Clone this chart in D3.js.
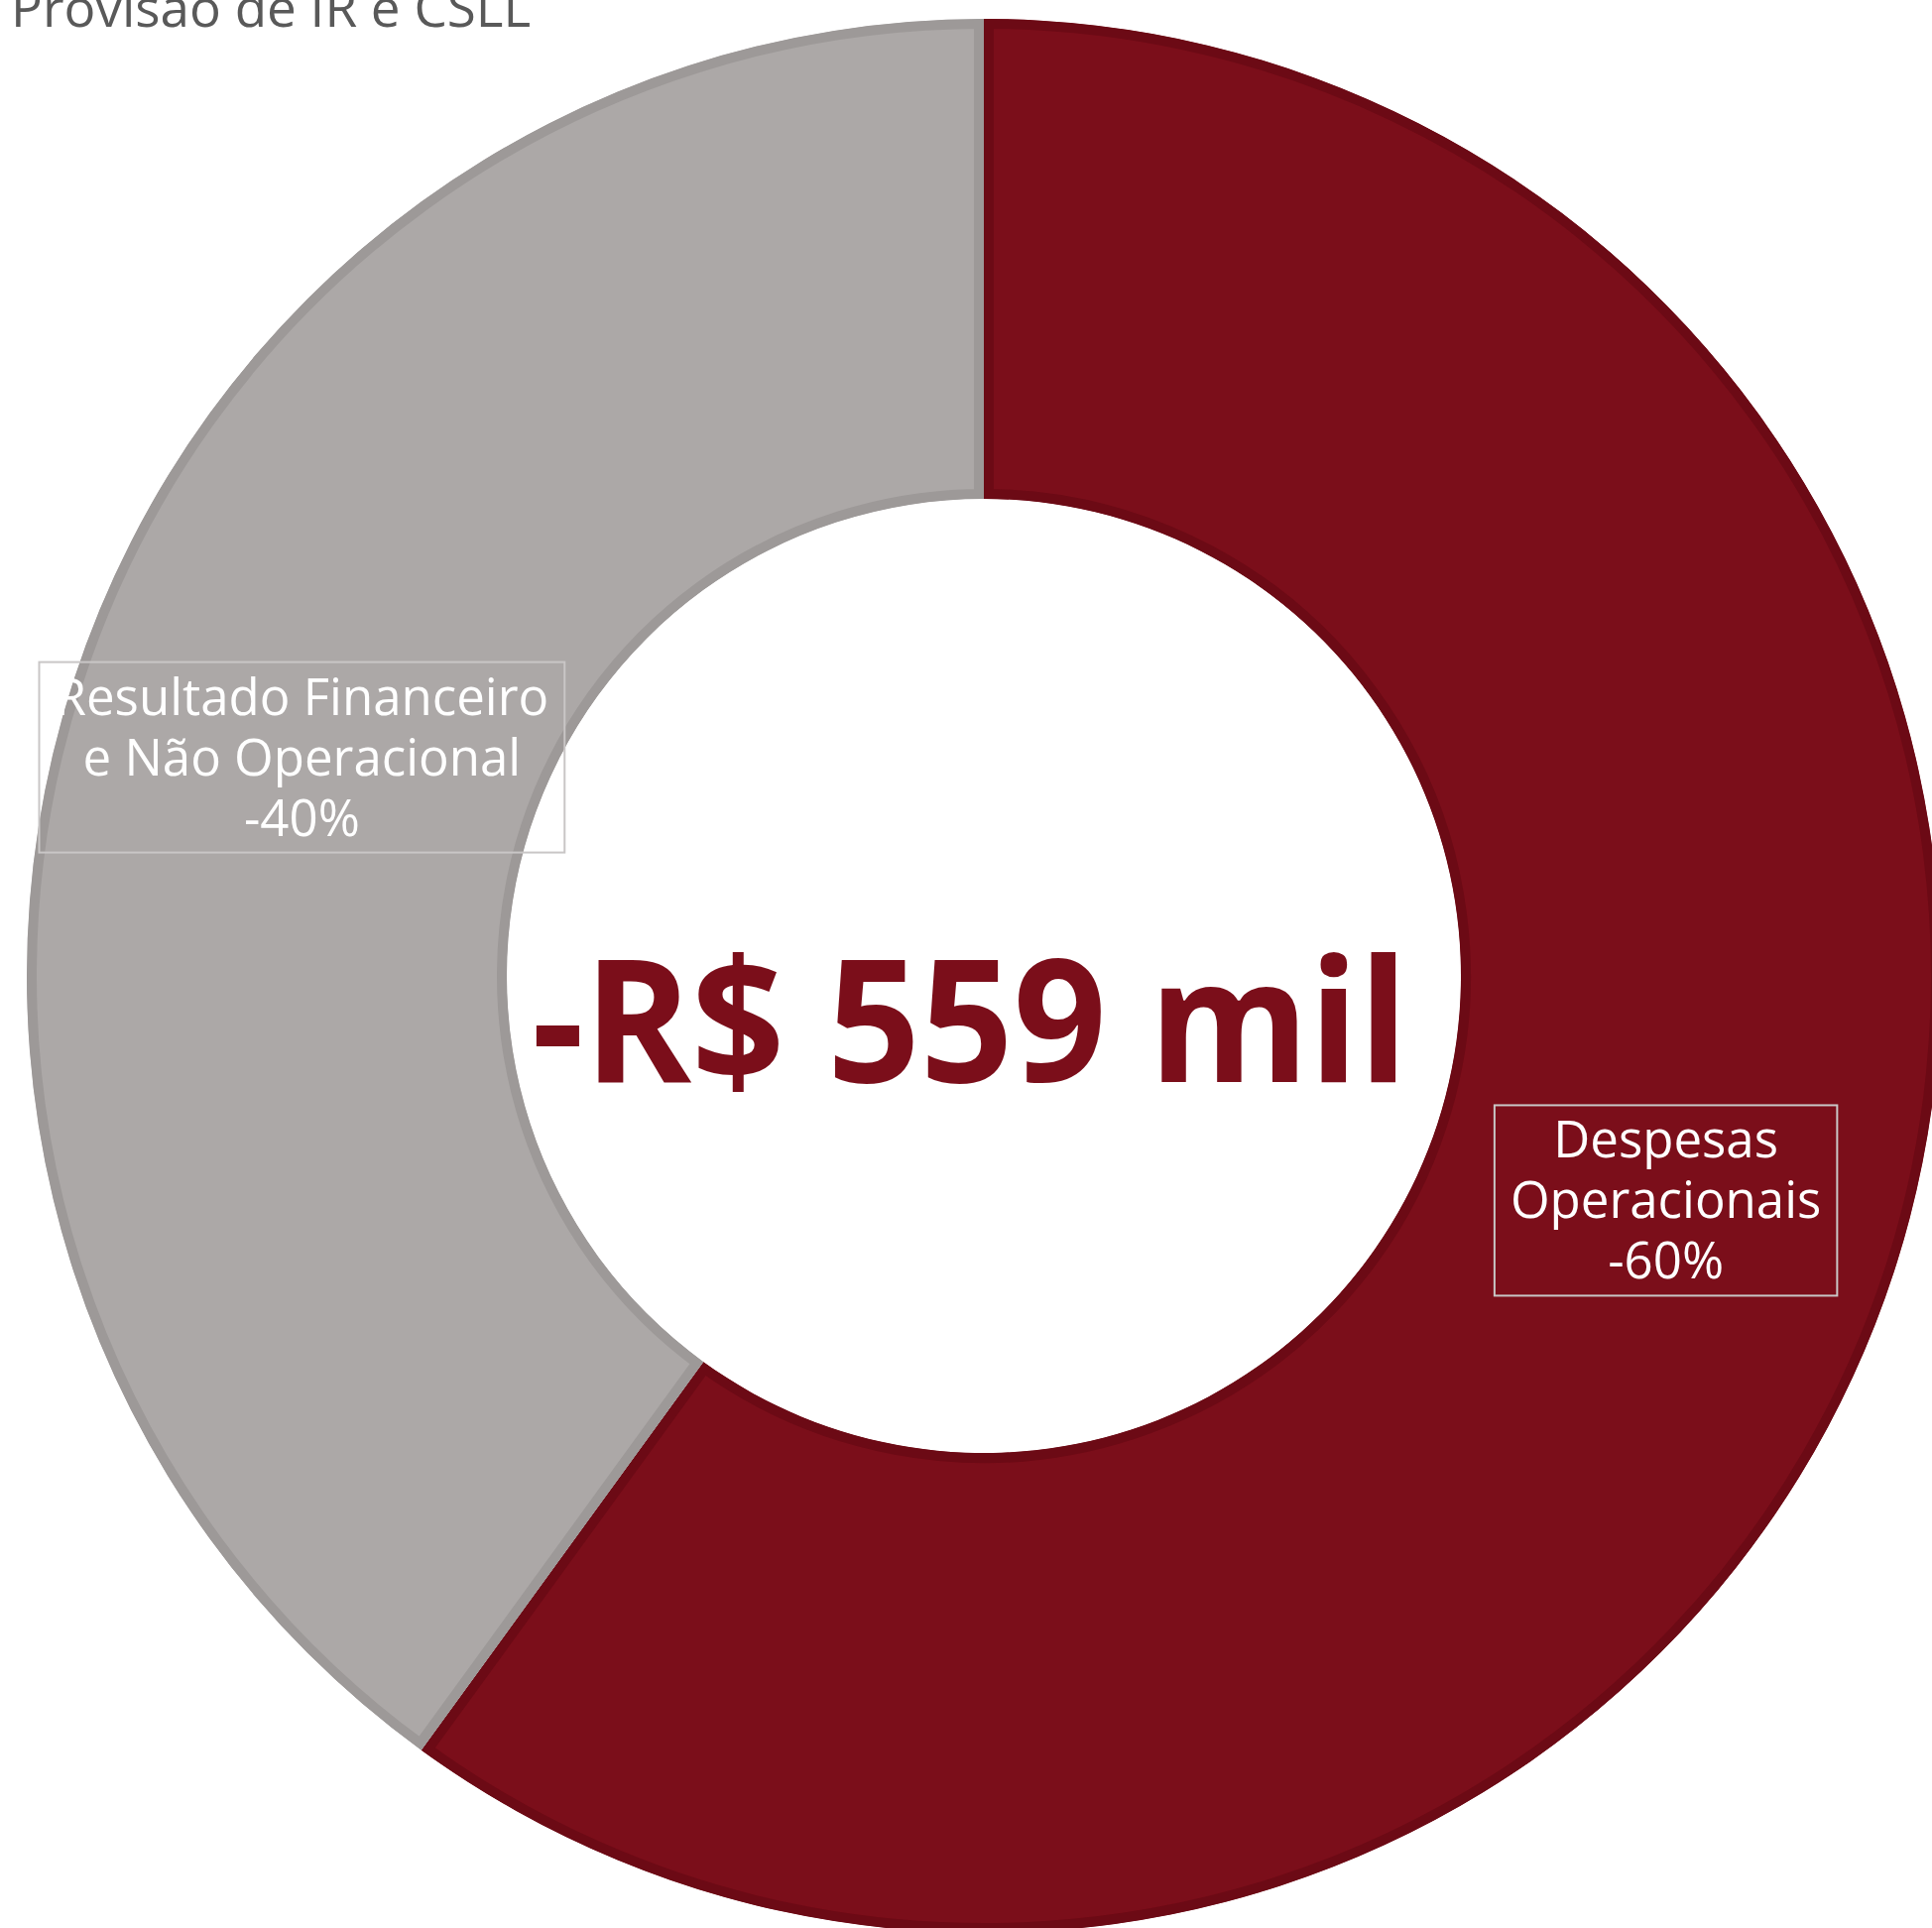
<!DOCTYPE html>
<meta charset="utf-8">
<style>
    body { margin: 0; background: #fff; }
    .title { font-family: "Open Sans", sans-serif; font-size: 53px; fill: #595959; }
    .label text { font-family: "Open Sans", sans-serif; font-size: 51px; fill: #fff; }
    .label rect { fill: none; stroke: #c9c6c6; stroke-width: 2px; }
    .total { font-family: "Open Sans", sans-serif; font-weight: 700; font-size: 172px; fill: #7b0e1a; }
</style>
<svg width="1948" height="1944"></svg>
<script src="https://d3js.org/d3.v7.min.js"></script>
<script>

    // data
    var categories = ["Despesas Operacionais", "Resultado Financeiro e Não Operacional"];
    var shares = [60, 40];
    var labelLines = [
        ["Despesas", "Operacionais", "-60%"],
        ["Resultado Financeiro", "e Não Operacional", "-40%"]
    ];
    var fills = ["#7b0e1a", "#aca8a7"];
    var strokes = ["#6c0a15", "#9d9998"];
    var title = "Provisão de IR e CSLL";
    var total = "-R$ 559 mil";

    var svg = d3.select("svg"),
        cx = 992, cy = 984,
        outer = 965, inner = 481;

    var pie = d3.pie().sort(null).value(function(d) { return d; });
    var arc = d3.arc().innerRadius(inner).outerRadius(outer);
    var arcs = pie(shares);

    var g = svg.append("g").attr("transform", "translate(" + cx + "," + cy + ")");

    // clip each slice to itself so the border sits inside
    var defs = svg.append("defs");
    defs.selectAll("clipPath")
        .data(arcs)
        .enter().append("clipPath")
        .attr("id", function(d, i) { return "clip" + i; })
        .append("path")
        .attr("d", arc);

    g.selectAll("path.slice")
        .data(arcs)
        .enter().append("path")
        .attr("class", "slice")
        .attr("d", arc)
        .attr("fill", function(d, i) { return fills[i]; })
        .attr("stroke", function(d, i) { return strokes[i]; })
        .attr("stroke-width", 20)
        .attr("clip-path", function(d, i) { return "url(#clip" + i + ")"; });

    // slice labels, boxed, at the slice centroid
    var lineH = 61;

    var label = g.selectAll("g.label")
        .data(arcs)
        .enter().append("g")
        .attr("class", "label")
        .attr("transform", function(d) {
            var c = arc.centroid(d);
            return "translate(" + c[0] + "," + c[1] + ")";
        });

    label.each(function(d, i) {
        var sel = d3.select(this);
        var lines = labelLines[i];
        var t = sel.append("text").attr("text-anchor", "middle");
        lines.forEach(function(s, k) {
            t.append("tspan")
                .attr("x", 0)
                .attr("y", (k - (lines.length - 1) / 2) * lineH + 21)
                .text(s);
        });
        var bb = t.node().getBBox();
        sel.insert("rect", "text")
            .attr("x", bb.x - 16)
            .attr("y", bb.y + 2)
            .attr("width", bb.width + 32)
            .attr("height", bb.height);
    });

    // total in the hole
    g.append("text")
        .attr("class", "total")
        .attr("x", -14)
        .attr("y", 107)
        .attr("text-anchor", "middle")
        .attr("textLength", 884)
        .attr("lengthAdjust", "spacingAndGlyphs")
        .text(total);

    svg.append("text")
        .attr("class", "title")
        .attr("x", 11)
        .attr("y", 27)
        .text(title);

</script>
